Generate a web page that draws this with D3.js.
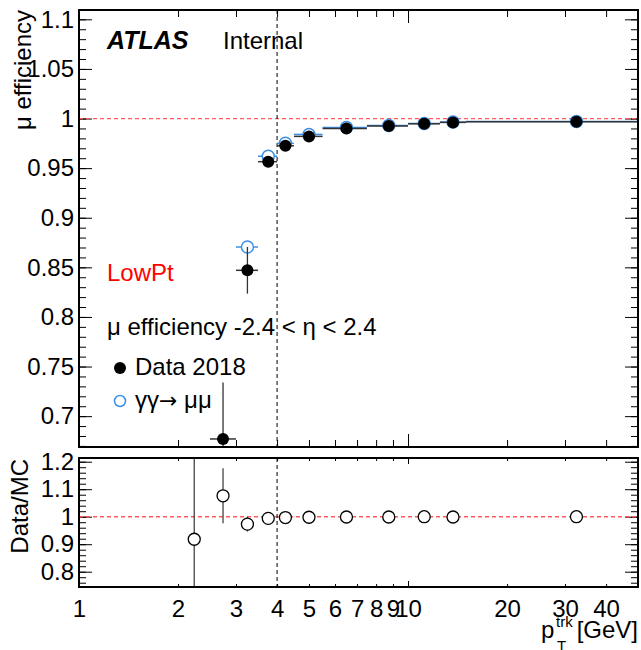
<!DOCTYPE html>
<html>
<head>
<meta charset="utf-8">
<script src="https://cdn.jsdelivr.net/npm/d3@7"></script>
<style>
body { margin: 0; background: #fff; }
text { font-family: "Liberation Sans", Arial, Helvetica, sans-serif; }
</style>
</head>
<body>
<script>
// bins in pT [GeV]
binLo = [2.0, 2.5, 3.0, 3.5, 4.0, 4.5, 5.5, 7.5, 10, 12.5, 15];
binHi = [2.5, 3.0, 3.5, 4.0, 4.5, 5.5, 7.5, 10, 12.5, 15, 50];
xCenter = [2.24, 2.74, 3.25, 3.76, 4.24, 5.0, 6.5, 8.74, 11.2, 13.7, 32.5];

// Data 2018
dataEff = [0.55, 0.677, 0.847, 0.9565, 0.9725, 0.982, 0.990, 0.9925, 0.9947, 0.9961, 0.9968];
dataErr = [0.07, 0.057, 0.0235, 0.003, 0.002, 0.0015, 0.001, 0.001, 0.001, 0.001, 0.001];

// gamma gamma -> mu mu MC
mcEff = [0.60, 0.629, 0.8705, 0.962, 0.975, 0.984, 0.991, 0.993, 0.995, 0.9965, 0.997];

// Data/MC
ratio = [0.918, 1.076, 0.973, 0.994, 0.997, 0.998, 0.999, 0.999, 1.0, 0.999, 1.0];
ratioErr = [0.4, 0.10, 0.027, 0.004, 0.003, 0.002, 0.001, 0.001, 0.001, 0.001, 0.001];

// ticks
xTicks = [1, 2, 3, 4, 5, 6, 7, 8, 9, 10, 20, 30, 40, 50];
xMajor = [1, 10];
xLabels = ['1', '2', '3', '4', '5', '6', '7', '8', '9', '10', '20', '30', '40'];
yTopMajor = [0.7, 0.75, 0.8, 0.85, 0.9, 0.95, 1.0, 1.05, 1.1];
yTopLabels = ['0.7', '0.75', '0.8', '0.85', '0.9', '0.95', '1', '1.05', '1.1'];
yRatMajor = [0.8, 0.9, 1.0, 1.1, 1.2];
yRatLabels = ['0.8', '0.9', '1', '1.1', '1.2'];

w = 641;
h = 650;
fs = 24;
blue = '#3d8ee6';
font = '"Liberation Sans", Arial, Helvetica, sans-serif';

let bins = xCenter.map((c, i) => ({
  c: c, lo: binLo[i], hi: binHi[i],
  d: dataEff[i], de: dataErr[i], mc: mcEff[i],
  r: ratio[i], re: ratioErr[i]
}));

let xScale = d3.scaleLog().domain([1, 50]).range([79, 638]);
let yTop = d3.scaleLinear().domain([0.6689, 1.1094]).range([447, 10]);
let yRat = d3.scaleLinear().domain([0.7444, 1.2135]).range([587, 458]);

svg = d3.select('body')
  .append('svg')
  .attr('width', w)
  .attr('height', h);

defs = svg.append('defs');
defs.append('clipPath').attr('id', 'clipTop').append('rect')
  .attr('x', 79).attr('y', 10).attr('width', 559).attr('height', 437);
defs.append('clipPath').attr('id', 'clipRat').append('rect')
  .attr('x', 79).attr('y', 458).attr('width', 559).attr('height', 129);

// draws a set of inward ticks, optionally labelled
function ticks(gen, scale, pos, values, size, labels, pad) {
  let a = gen(scale).tickValues(values).tickSize(-size).tickPadding(pad || 5);
  a.tickFormat(labels ? (d, i) => labels[i] : '');
  let g = svg.append('g').attr('transform', pos).call(a);
  g.select('.domain').remove();
  g.attr('font-size', fs).attr('font-family', font);
  g.selectAll('line').attr('stroke', '#000').attr('stroke-width', 1);
  g.selectAll('text').attr('fill', '#000');
  return g;
}

let yTopMinor = d3.range(67, 111).map(v => v / 100);
let yRatMinor = d3.range(38, 61).map(v => v / 50);

// ---- top panel axes
ticks(d3.axisLeft, yTop, 'translate(79,0)', yTopMinor, 7);
ticks(d3.axisLeft, yTop, 'translate(79,0)', yTopMajor, 13, yTopLabels);
ticks(d3.axisRight, yTop, 'translate(638,0)', yTopMinor, 7);
ticks(d3.axisRight, yTop, 'translate(638,0)', yTopMajor, 13);
ticks(d3.axisBottom, xScale, 'translate(0,447)', xTicks, 7);
ticks(d3.axisBottom, xScale, 'translate(0,447)', xMajor, 13);
ticks(d3.axisTop, xScale, 'translate(0,10)', xTicks, 7);
ticks(d3.axisTop, xScale, 'translate(0,10)', xMajor, 13);

// ---- ratio panel axes
ticks(d3.axisLeft, yRat, 'translate(79,0)', yRatMinor, 7);
ticks(d3.axisLeft, yRat, 'translate(79,0)', yRatMajor, 13, yRatLabels);
ticks(d3.axisRight, yRat, 'translate(638,0)', yRatMinor, 7);
ticks(d3.axisRight, yRat, 'translate(638,0)', yRatMajor, 13);
ticks(d3.axisBottom, xScale, 'translate(0,587)', xTicks, 3);
ticks(d3.axisBottom, xScale, 'translate(0,587)', xMajor, 6);
ticks(d3.axisBottom, xScale, 'translate(0,587)', xTicks.slice(0, 13), 0, xLabels, 13);
ticks(d3.axisTop, xScale, 'translate(0,458)', xTicks, 3);
ticks(d3.axisTop, xScale, 'translate(0,458)', xMajor, 6);

// reference lines at 1
svg.append('line')
  .attr('x1', 79).attr('x2', 638)
  .attr('y1', yTop(1)).attr('y2', yTop(1))
  .attr('stroke', '#ff5a5a').attr('stroke-width', 1.2).attr('stroke-dasharray', '4,3');
svg.append('line')
  .attr('x1', 79).attr('x2', 638)
  .attr('y1', yRat(1)).attr('y2', yRat(1))
  .attr('stroke', '#ff5a5a').attr('stroke-width', 1.5).attr('stroke-dasharray', '4,3');

// vertical cut at 4 GeV
[[10, 447], [458, 587]].forEach(r => {
  svg.append('line')
    .attr('x1', xScale(4)).attr('x2', xScale(4))
    .attr('y1', r[0]).attr('y2', r[1])
    .attr('stroke', '#000').attr('stroke-width', 1).attr('stroke-dasharray', '4,3');
});

// ---- top panel marks
let topG = svg.append('g').attr('clip-path', 'url(#clipTop)');

topG.selectAll('.mcbar')
  .data(bins)
  .enter()
  .append('line')
  .attr('x1', d => xScale(d.lo)).attr('x2', d => xScale(d.hi))
  .attr('y1', d => yTop(d.mc)).attr('y2', d => yTop(d.mc))
  .attr('stroke', blue).attr('stroke-width', 1.5);

topG.selectAll('.mc')
  .data(bins)
  .enter()
  .append('circle')
  .attr('cx', d => xScale(d.c))
  .attr('cy', d => yTop(d.mc))
  .attr('r', 6)
  .attr('fill', '#fff')
  .attr('stroke', blue)
  .attr('stroke-width', 1.5);

topG.selectAll('.dbar')
  .data(bins)
  .enter()
  .append('line')
  .attr('x1', d => xScale(d.lo)).attr('x2', d => xScale(d.hi))
  .attr('y1', d => yTop(d.d)).attr('y2', d => yTop(d.d))
  .attr('stroke', '#333').attr('stroke-width', 1.5);

topG.selectAll('.derr')
  .data(bins)
  .enter()
  .append('line')
  .attr('x1', d => xScale(d.c)).attr('x2', d => xScale(d.c))
  .attr('y1', d => yTop(d.d - d.de)).attr('y2', d => yTop(d.d + d.de))
  .attr('stroke', '#333').attr('stroke-width', 1.3);

topG.selectAll('.data')
  .data(bins)
  .enter()
  .append('circle')
  .attr('cx', d => xScale(d.c))
  .attr('cy', d => yTop(d.d))
  .attr('r', 6)
  .attr('fill', '#000');

// ---- ratio panel marks
let ratG = svg.append('g').attr('clip-path', 'url(#clipRat)');

ratG.selectAll('.rerr')
  .data(bins)
  .enter()
  .append('line')
  .attr('x1', d => xScale(d.c)).attr('x2', d => xScale(d.c))
  .attr('y1', d => yRat(d.r - d.re)).attr('y2', d => yRat(d.r + d.re))
  .attr('stroke', '#444').attr('stroke-width', 1.3);

ratG.selectAll('.ratio')
  .data(bins)
  .enter()
  .append('circle')
  .attr('cx', d => xScale(d.c))
  .attr('cy', d => yRat(d.r))
  .attr('r', 6)
  .attr('fill', '#fff')
  .attr('stroke', '#000')
  .attr('stroke-width', 1.3);

// frames
svg.append('rect').attr('x', 79).attr('y', 10).attr('width', 559).attr('height', 437)
  .attr('fill', 'none').attr('stroke', '#000').attr('stroke-width', 2);
svg.append('rect').attr('x', 79).attr('y', 458).attr('width', 559).attr('height', 129)
  .attr('fill', 'none').attr('stroke', '#000').attr('stroke-width', 2);

// ---- texts
function label(x, y, str, opts) {
  opts = opts || {};
  let t = svg.append('text')
    .attr('x', x).attr('y', y)
    .attr('font-size', opts.size || fs)
    .attr('fill', opts.fill || '#000')
    .text(str);
  if (opts.anchor) t.attr('text-anchor', opts.anchor);
  if (opts.weight) t.attr('font-weight', opts.weight);
  if (opts.style) t.attr('font-style', opts.style);
  return t;
}

svg.append('text')
  .attr('transform', 'translate(31,10) rotate(-90)')
  .attr('text-anchor', 'end')
  .attr('font-size', fs)
  .text('μ efficiency');
svg.append('text')
  .attr('transform', 'translate(28,459) rotate(-90)')
  .attr('text-anchor', 'end')
  .attr('font-size', fs)
  .text('Data/MC');

label(107, 49, 'ATLAS', { weight: 'bold', style: 'italic', size: 25 });
label(223, 49, 'Internal');
label(107, 281, 'LowPt', { fill: '#ff0000' });
label(107, 335, 'μ efficiency -2.4 < η < 2.4');

// legend
svg.append('circle').attr('cx', 120).attr('cy', 368).attr('r', 6).attr('fill', '#000');
label(135, 375, 'Data 2018');
svg.append('circle').attr('cx', 120).attr('cy', 401).attr('r', 5.5)
  .attr('fill', '#fff').attr('stroke', blue).attr('stroke-width', 1.5);
let mcLab = label(135, 408, 'γγ');
mcLab.append('tspan').attr('font-family', '"DejaVu Sans"').attr('font-size', 22).text('→');
mcLab.append('tspan').text(' μμ');

// x axis title
label(541, 638, 'p');
label(556, 627, 'trk', { size: 15 });
label(557, 651, 'T', { size: 15 });
label(638, 638, '[GeV]', { anchor: 'end' });
</script>
</body>
</html>
